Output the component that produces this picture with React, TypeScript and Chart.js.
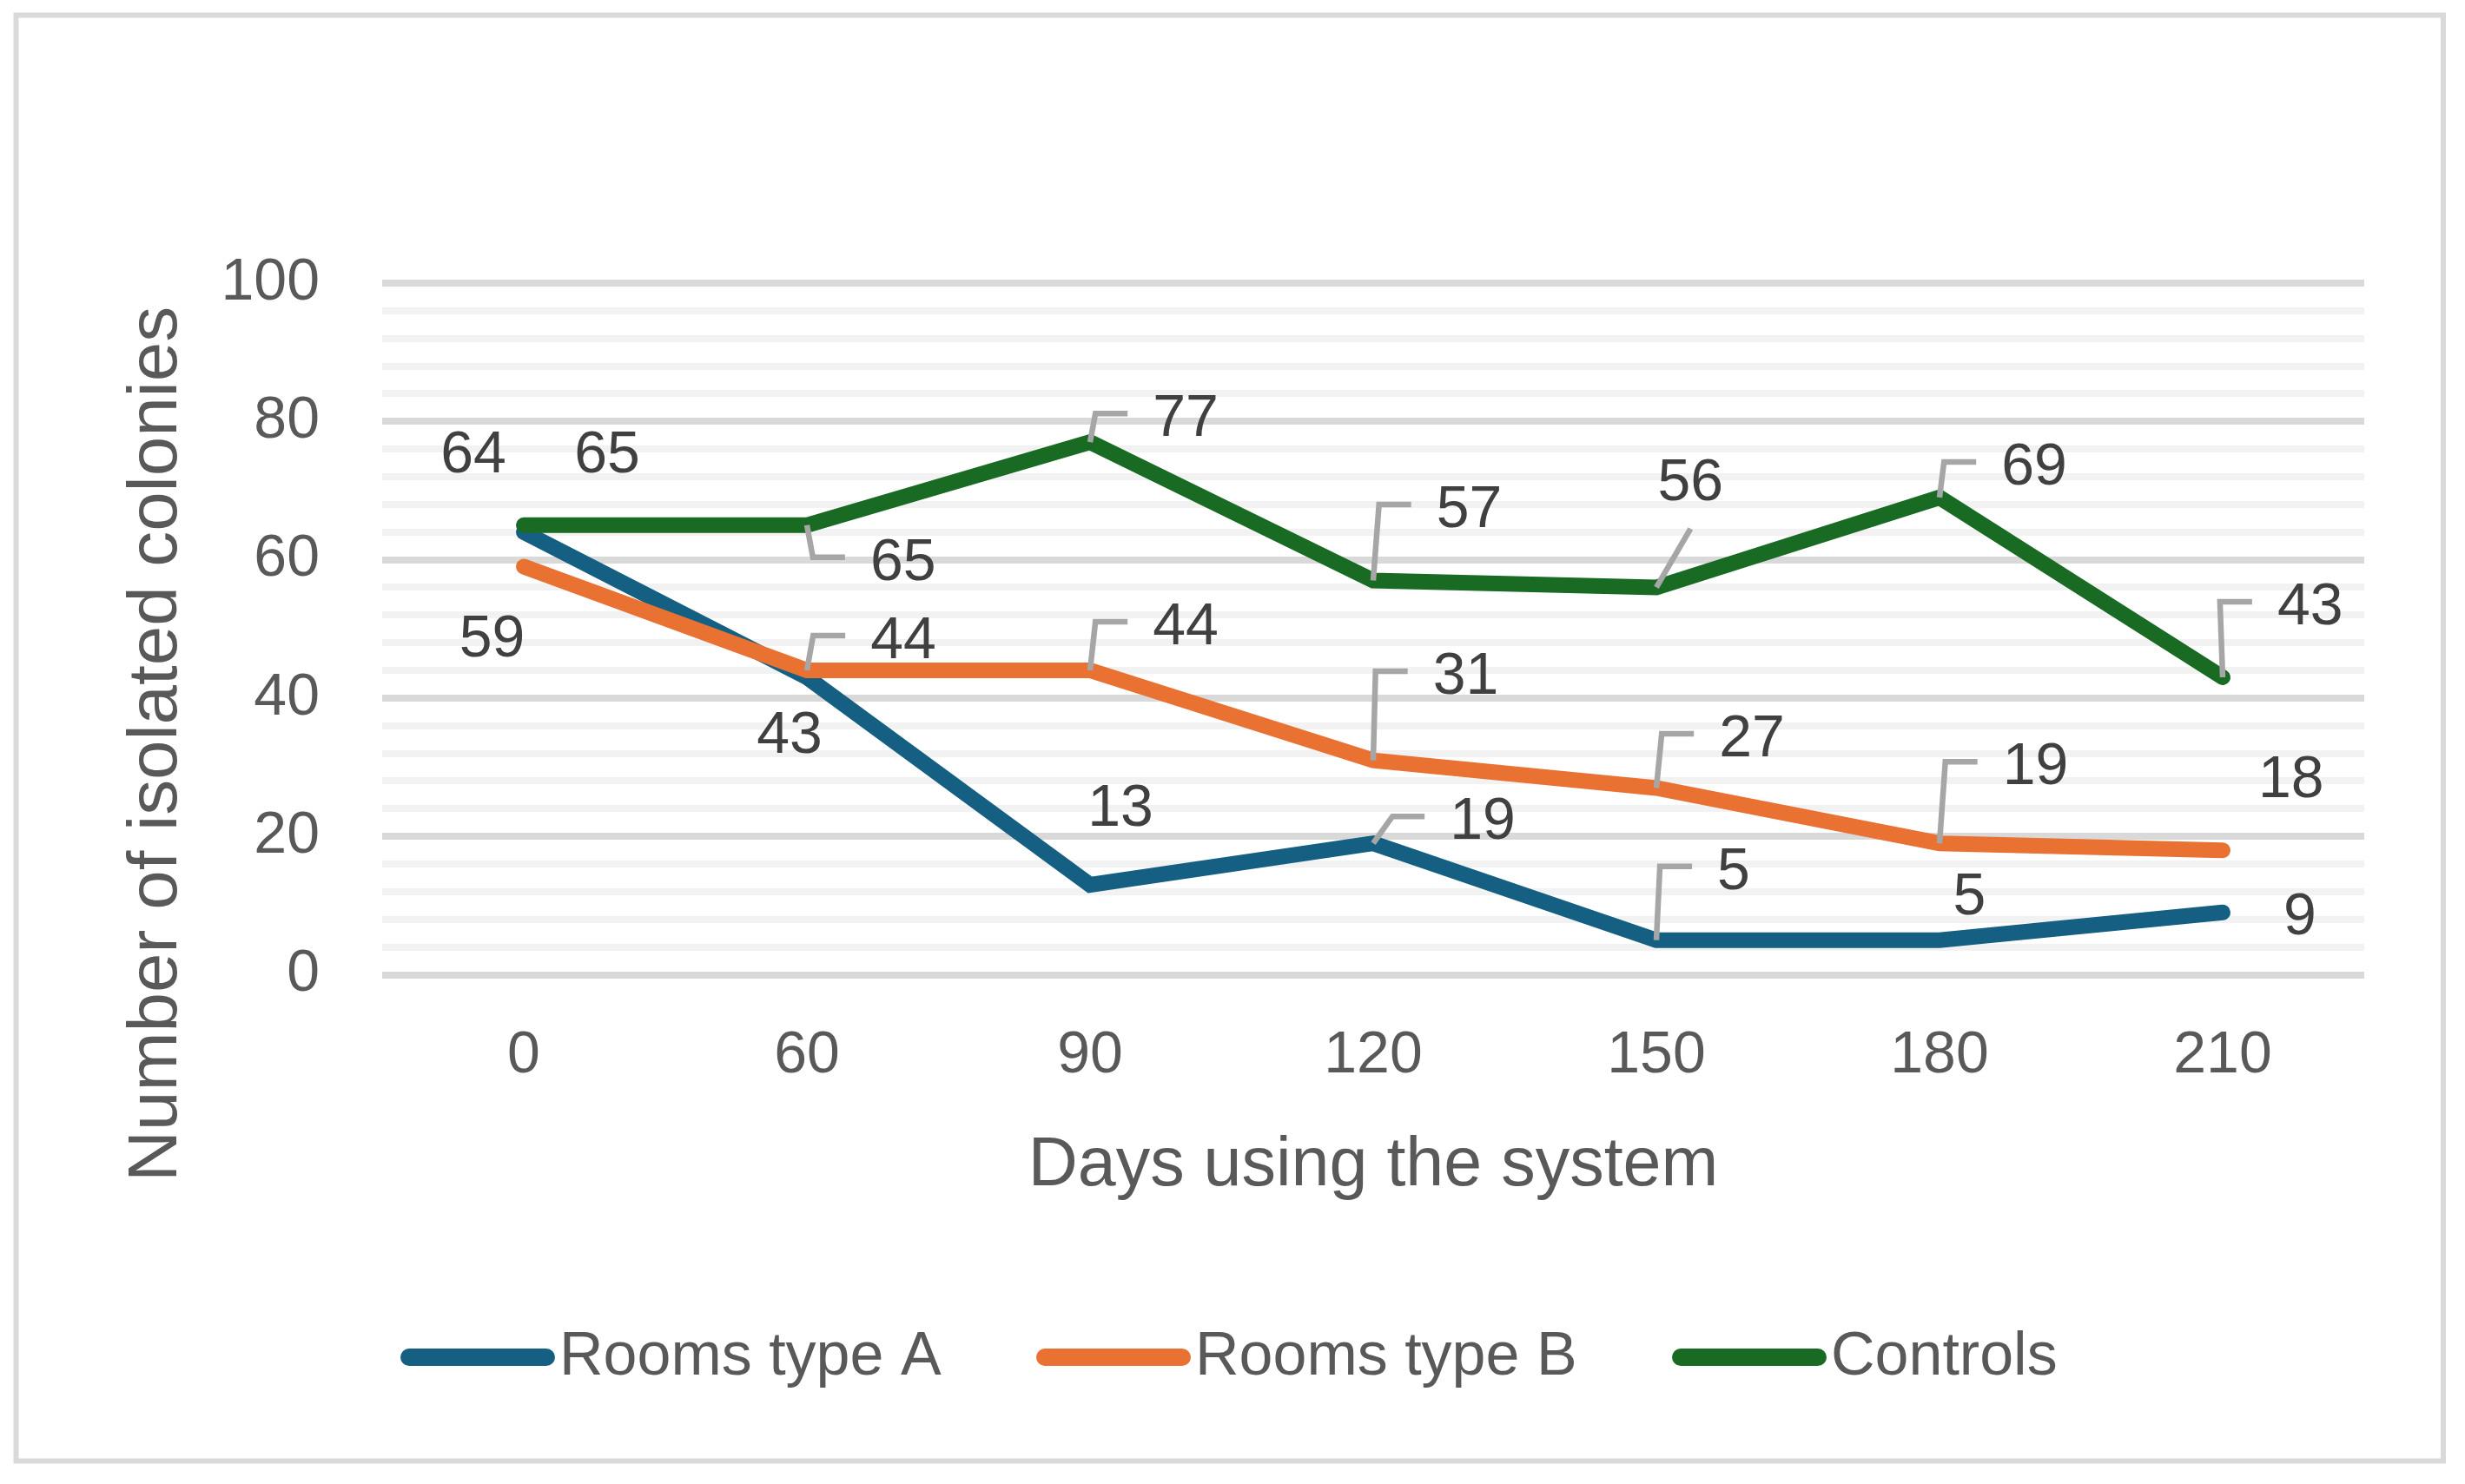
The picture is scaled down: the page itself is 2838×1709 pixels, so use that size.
import { useEffect, useRef } from 'react';
import { Chart, registerables } from 'chart.js';

Chart.register(...registerables);

// ---------- data ----------
const categories = ['0', '60', '90', '120', '150', '180', '210'];
const roomsTypeA = [64, 43, 13, 19, 5, 5, 9];
const roomsTypeB = [59, 44, 44, 31, 27, 19, 18];
const controls = [65, 65, 77, 57, 56, 69, 43];
const seriesNames = ['Rooms type A', 'Rooms type B', 'Controls'];
const seriesColors = ['#156082', '#E97132', '#196B24'];
const xTitle = 'Days using the system';
const yTitle = 'Number of isolated colonies';

// ---------- label placement (pixel offsets from the point, leader style) ----------
type Leader = 'none' | 'side' | 'up';
const placeA: [number, number, Leader][] = [
  [-58, -93, 'none'], [-20, 63, 'none'], [35, -92, 'none'], [126, -29, 'side'],
  [89, -83, 'side'], [34.5, -54, 'none'], [89, 1, 'none'],
];
const placeB: [number, number, Leader][] = [
  [-36.5, 79, 'none'], [111, -38, 'side'], [110, -54, 'side'], [106.5, -100.6, 'side'],
  [110, -60.4, 'side'], [110.5, -92, 'side'], [78.7, -85, 'none'],
];
const placeC: [number, number, Leader][] = [
  [96, -85, 'none'], [110.7, 39, 'side'], [110, -31, 'side'], [110.5, -85.5, 'side'],
  [39.3, -124.5, 'up'], [109, -39, 'side'], [100.7, -85, 'side'],
];
const placements = [placeA, placeB, placeC];
const legendStarts = [461, 1193, 1925];

const FONT = '"Liberation Sans", Arial, sans-serif';

const decorPlugin = {
  id: 'decor',
  beforeDraw(chart: any) {
    const ctx = chart.ctx;
    ctx.save();
    ctx.fillStyle = '#ffffff';
    ctx.fillRect(0, 0, chart.width, chart.height);
    ctx.strokeStyle = '#d9d9d9';
    ctx.lineWidth = 6;
    ctx.strokeRect(18.5, 17.5, 2813 - 18.5, 1682.5 - 17.5);
    ctx.restore();
  },
  afterDatasetsDraw(chart: any) {
    const ctx = chart.ctx;
    ctx.save();
    ctx.font = `68px ${FONT}`;
    const digitH = ctx.measureText('0').actualBoundingBoxAscent;
    chart.data.datasets.forEach((ds: any, di: number) => {
      const meta = chart.getDatasetMeta(di);
      ds.data.forEach((v: number, i: number) => {
        const pt = meta.data[i];
        const [dx, dy, leader] = placements[di][i];
        const cx = pt.x + dx;
        const cy = pt.y + dy;
        const text = String(v);
        const w = ctx.measureText(text).width;
        const left = cx - w / 2;
        if (leader !== 'none') {
          ctx.strokeStyle = '#a6a6a6';
          ctx.lineWidth = 6.5;
          ctx.lineCap = 'butt';
          ctx.lineJoin = 'miter';
          ctx.beginPath();
          ctx.moveTo(pt.x, pt.y);
          if (leader === 'side') {
            ctx.lineTo(left - 66, cy - 2);
            ctx.lineTo(left - 29, cy - 2);
          } else {
            ctx.lineTo(cx, cy + digitH / 2 + 33);
          }
          ctx.stroke();
        }
        ctx.fillStyle = '#404040';
        ctx.textAlign = 'center';
        ctx.textBaseline = 'alphabetic';
        ctx.fillText(text, cx, cy + digitH / 2);
      });
    });
    ctx.restore();
  },
  afterDraw(chart: any) {
    const ctx = chart.ctx;
    const ca = chart.chartArea;
    ctx.save();
    ctx.fillStyle = '#595959';
    // axis titles
    ctx.font = `79px ${FONT}`;
    ctx.textAlign = 'center';
    ctx.textBaseline = 'alphabetic';
    ctx.fillText(xTitle, (ca.left + ca.right) / 2, ca.bottom + 242.5);
    ctx.save();
    ctx.translate(203, ca.bottom - 265.5);
    ctx.rotate(-Math.PI / 2);
    const yw = ctx.measureText(yTitle).width;
    ctx.scale(1008 / yw, 1);
    ctx.fillText(yTitle, 0, 0);
    ctx.restore();
    // legend
    ctx.font = `70px ${FONT}`;
    const marker = 178;
    const ly = 1563;
    chart.data.datasets.forEach((d: any, i: number) => {
      const x = legendStarts[i];
      ctx.strokeStyle = d.borderColor;
      ctx.lineWidth = 20;
      ctx.lineCap = 'round';
      ctx.beginPath();
      ctx.moveTo(x + 10, ly);
      ctx.lineTo(x + marker - 10, ly);
      ctx.stroke();
      ctx.textAlign = 'left';
      ctx.fillStyle = '#595959';
      ctx.fillText(d.label, x + marker + 5, 1583);
    });
    ctx.restore();
  },
};

export default function App() {
  const ref = useRef<HTMLCanvasElement>(null);
  useEffect(() => {
    const canvas = ref.current;
    if (!canvas) return;
    const values = [roomsTypeA, roomsTypeB, controls];
    const chart = new Chart(canvas, {
      type: 'line',
      data: {
        labels: categories,
        datasets: values.map((vals, i) => ({
          label: seriesNames[i],
          data: vals,
          borderColor: seriesColors[i],
          backgroundColor: seriesColors[i],
          borderWidth: 18,
          borderCapStyle: 'round',
          borderJoinStyle: 'miter',
          pointRadius: 0,
          pointHoverRadius: 0,
          tension: 0,
          fill: false,
          order: 3 - i,
        })),
      },
      options: {
        responsive: false,
        maintainAspectRatio: false,
        animation: false,
        devicePixelRatio: 1,
        events: [],
        layout: { padding: { top: 326, right: 116, left: 0, bottom: 0 } },
        plugins: {
          legend: { display: false },
          tooltip: { enabled: false },
          title: { display: false },
        },
        scales: {
          x: {
            type: 'category',
            offset: true,
            grid: { display: false, drawTicks: false },
            border: { display: false },
            ticks: {
              font: { family: FONT, size: 68 },
              color: '#595959',
              padding: 53,
              maxRotation: 0,
              autoSkip: false,
            },
            afterFit: (s: any) => {
              s.height = 586.5;
            },
          },
          y: {
            min: 0,
            max: 100,
            border: { display: false },
            grid: {
              color: (c: any) => (c.tick && c.tick.value % 20 === 0 ? '#d9d9d9' : '#f2f2f2'),
              lineWidth: 8,
              drawTicks: false,
            },
            ticks: {
              stepSize: 4,
              maxTicksLimit: 100,
              autoSkip: false,
              font: { family: FONT, size: 68 },
              color: '#595959',
              padding: 72,
              callback: (v: any) => (Number(v) % 20 === 0 ? String(v) : ''),
            },
            afterFit: (s: any) => {
              s.width = 440;
            },
          },
        },
      } as any,
      plugins: [decorPlugin],
    });
    return () => chart.destroy();
  }, []);
  return (
    <div style={{ position: 'fixed', left: 0, top: 0, width: 2838, height: 1709, background: '#fff' }}>
      <canvas ref={ref} width={2838} height={1709} style={{ display: 'block', width: '2838px', height: '1709px' }} />
    </div>
  );
}
